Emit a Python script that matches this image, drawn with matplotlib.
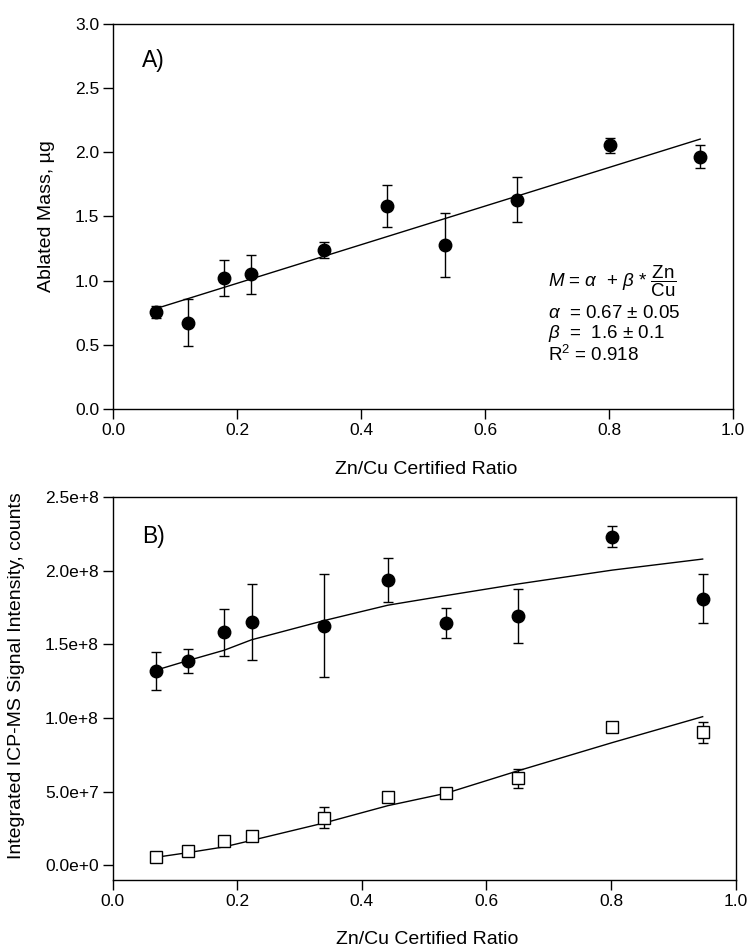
import numpy as np
import matplotlib
matplotlib.use('Agg')
import matplotlib.pyplot as plt
from matplotlib.ticker import FuncFormatter

plt.rcParams['font.family'] = ['Liberation Sans', 'DejaVu Sans']
plt.rcParams['mathtext.fontset'] = 'custom'
plt.rcParams['mathtext.rm'] = 'Liberation Sans'
plt.rcParams['mathtext.it'] = 'Liberation Sans:italic'

# Zn/Cu certified ratio of the standards
ratio = [0.069, 0.121, 0.179, 0.223, 0.340, 0.442, 0.535, 0.651, 0.802, 0.947]

# panel A: ablated mass (ug) and error, linear fit M = alpha + beta*ratio
mass = [0.754, 0.673, 1.02, 1.048, 1.24, 1.58, 1.28, 1.63, 2.054, 1.965]
mass_err = [0.045, 0.185, 0.138, 0.15, 0.06, 0.163, 0.25, 0.175, 0.06, 0.09]
fit_alpha = 0.678
fit_beta = 1.505

# panel B: ICP-MS integrated signal (counts)
cu_counts = [1.32e8, 1.387e8, 1.581e8, 1.653e8, 1.626e8, 1.937e8, 1.646e8, 1.693e8, 2.232e8, 1.811e8]
cu_err = [1.28e7, 8e6, 1.6e7, 2.6e7, 3.5e7, 1.5e7, 1.03e7, 1.83e7, 7.3e6, 1.67e7]
cu_fit = [1.324e8, 1.39e8, 1.46e8, 1.531e8, 1.662e8, 1.766e8, 1.831e8, 1.91e8, 2.004e8, 2.079e8]

zn_counts = [5.6e6, 9.9e6, 1.62e7, 1.98e7, 3.22e7, 4.66e7, 4.93e7, 5.92e7, 9.37e7, 9.03e7]
zn_err = [0, 0, 0, 0, 7.2e6, 0, 0, 6.4e6, 0, 7.3e6]
zn_fit = [5.4e6, 8.6e6, 1.25e7, 1.69e7, 2.88e7, 4.05e7, 4.89e7, 6.42e7, 8.33e7, 1.009e8]


def sci_fmt(v, pos):
    m, e = f"{v:.1e}".split('e')
    return f"{m}e{int(e):+d}"


fig = plt.figure(figsize=(7.51, 9.52), dpi=100)
axA = fig.add_axes([0.1505, 0.5704, 0.8256, 0.4044])
axB = fig.add_axes([0.1500, 0.0756, 0.8296, 0.4023])

# ---- panel A ----
axA.errorbar(ratio, mass, yerr=mass_err, fmt='o', color='black', ms=9,
             ecolor='black', elinewidth=1, capsize=3.5, capthick=1, zorder=3)
xs = np.array([ratio[0], ratio[-1]])
axA.plot(xs, fit_alpha + fit_beta * xs, color='black', lw=1)
axA.set_xlim(0, 1)
axA.set_ylim(0, 3)
axA.set_xticks(np.arange(0, 1.01, 0.2))
axA.set_yticks(np.arange(0, 3.01, 0.5))
axA.xaxis.set_major_formatter(FuncFormatter(lambda v, p: f"{v:.1f}"))
axA.yaxis.set_major_formatter(FuncFormatter(lambda v, p: f"{v:.1f}"))
axA.set_xlabel('Zn/Cu Certified Ratio', fontsize=14)
axA.set_ylabel('Ablated Mass, µg', fontsize=14)
axA.text(0.047, 0.906, 'A)', transform=axA.transAxes, fontsize=16.5, va='center')
axA.text(0.701, 0.331, r'$M$ = $\alpha$  + $\beta$ * $\dfrac{\mathrm{Zn}}{\mathrm{Cu}}$',
         transform=axA.transAxes, fontsize=13.5, va='center')
axA.text(0.701, 0.247, r'$\alpha$  = 0.67 ± 0.05', transform=axA.transAxes,
         fontsize=13.5, va='center')
axA.text(0.701, 0.195, r'$\beta$  =  1.6 ± 0.1', transform=axA.transAxes,
         fontsize=13.5, va='center')
axA.text(0.701, 0.140, r'R$^2$ = 0.918', transform=axA.transAxes,
         fontsize=13.5, va='center')

# ---- panel B ----
axB.errorbar(ratio, cu_counts, yerr=cu_err, fmt='o', color='black', ms=9,
             ecolor='black', elinewidth=1, capsize=3.5, capthick=1, zorder=3)
axB.plot(ratio, cu_fit, color='black', lw=1)
zerr = np.array(zn_err, dtype=float)
axB.errorbar(ratio, zn_counts, yerr=np.where(zerr > 0, zerr, np.nan), fmt='none',
             ecolor='black', elinewidth=1, capsize=3.5, capthick=1, zorder=2)
axB.plot(ratio, zn_counts, 's', ms=8, mfc='white', mec='black', mew=1, zorder=4)
axB.plot(ratio, zn_fit, color='black', lw=1, zorder=3)
axB.set_xlim(0, 1)
axB.set_ylim(-1e7, 2.5e8)
axB.set_xticks(np.arange(0, 1.01, 0.2))
axB.set_yticks(np.arange(0, 2.51e8, 5e7))
axB.xaxis.set_major_formatter(FuncFormatter(lambda v, p: f"{v:.1f}"))
axB.yaxis.set_major_formatter(FuncFormatter(sci_fmt))
axB.set_xlabel('Zn/Cu Certified Ratio', fontsize=14)
axB.set_ylabel('Integrated ICP-MS Signal Intensity, counts', fontsize=14)
axB.text(0.047, 0.897, 'B)', transform=axB.transAxes, fontsize=16.5, va='center')

for ax in (axA, axB):
    ax.tick_params(direction='out', length=7, width=1, labelsize=12.5, pad=3,
                   top=False, right=False)
    for s in ax.spines.values():
        s.set_linewidth(1)
    ax.xaxis.label.set_va('center')
    ax.yaxis.label.set_va('center')
axA.xaxis.set_label_coords(0.505, -0.156)
axB.xaxis.set_label_coords(0.505, -0.155)
axA.yaxis.set_label_coords(-0.107, 0.5)
axB.yaxis.set_label_coords(-0.155, 0.535)

fig.savefig('out.png', dpi=100)
